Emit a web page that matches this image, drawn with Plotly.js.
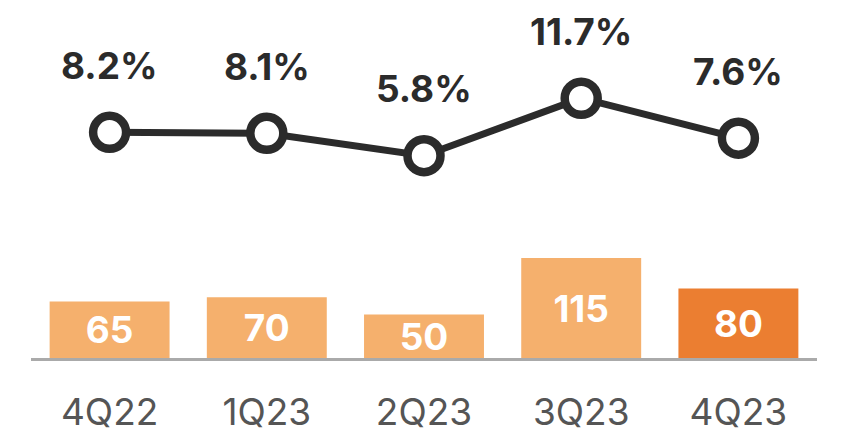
<!DOCTYPE html>
<html>
<head>
<meta charset="utf-8">
<script src="https://cdn.plot.ly/plotly-3.0.1.min.js"></script>
<style>
  html, body { margin: 0; padding: 0; background: #ffffff; }
  #chart { width: 845px; height: 441px; }
</style>
</head>
<body>
<div id="chart"></div>
<script>
// ---- data ----
const categories = ['4Q22', '1Q23', '2Q23', '3Q23', '4Q23'];
const volumes = [65, 70, 50, 115, 80];
const margins = [8.2, 8.1, 5.8, 11.7, 7.6];
const marginLabels = ['8.2%', '8.1%', '5.8%', '11.7%', '7.6%'];

// ---- style ----
const barColors = ['#F5B06D', '#F5B06D', '#F5B06D', '#F5B06D', '#EB7E31'];
const ink = '#2B2B2B';

const bars = {
  type: 'bar',
  x: categories,
  y: volumes,
  text: volumes.map(String),
  textposition: 'inside',
  insidetextanchor: 'middle',
  constraintext: 'none',
  textfont: { family: 'Inter', size: 37, weight: 700, color: '#ffffff' },
  marker: { color: barColors, line: { width: 0 } },
  hoverinfo: 'skip',
  yaxis: 'y'
};

const line = {
  type: 'scatter',
  mode: 'lines+markers',
  x: categories,
  y: margins,
  line: { color: ink, width: 7 },
  marker: { symbol: 'circle', size: 33, color: '#ffffff', line: { color: ink, width: 8.5 } },
  hoverinfo: 'skip',
  yaxis: 'y2'
};

const annotations = categories.map((c, i) => ({
  x: c,
  y: margins[i],
  xref: 'x',
  yref: 'y2',
  text: marginLabels[i],
  showarrow: false,
  yshift: 67,
  font: { family: 'Inter', size: 37, weight: 700, color: ink }
}));

const layout = {
  width: 845,
  height: 441,
  margin: { l: 31, r: 28, t: 0, b: 83 },
  paper_bgcolor: '#ffffff',
  plot_bgcolor: '#ffffff',
  showlegend: false,
  bargap: 0.237,
  xaxis: {
    type: 'category',
    range: [-0.5, 4.5],
    showgrid: false,
    zeroline: false,
    showline: true,
    linecolor: '#AAAAAA',
    linewidth: 3,
    ticks: '',
    tickfont: { family: 'Inter', size: 37, color: '#555555' },
    ticklabelstandoff: 20,
    fixedrange: true
  },
  yaxis: {
    range: [0, 412],
    visible: false,
    showgrid: false,
    zeroline: false,
    fixedrange: true
  },
  yaxis2: {
    range: [-14.97, 21.785],
    overlaying: 'y',
    visible: false,
    showgrid: false,
    zeroline: false,
    fixedrange: true
  },
  annotations: annotations
};

Plotly.newPlot('chart', [bars, line], layout, { displayModeBar: false, staticPlot: true });
</script>
</body>
</html>
